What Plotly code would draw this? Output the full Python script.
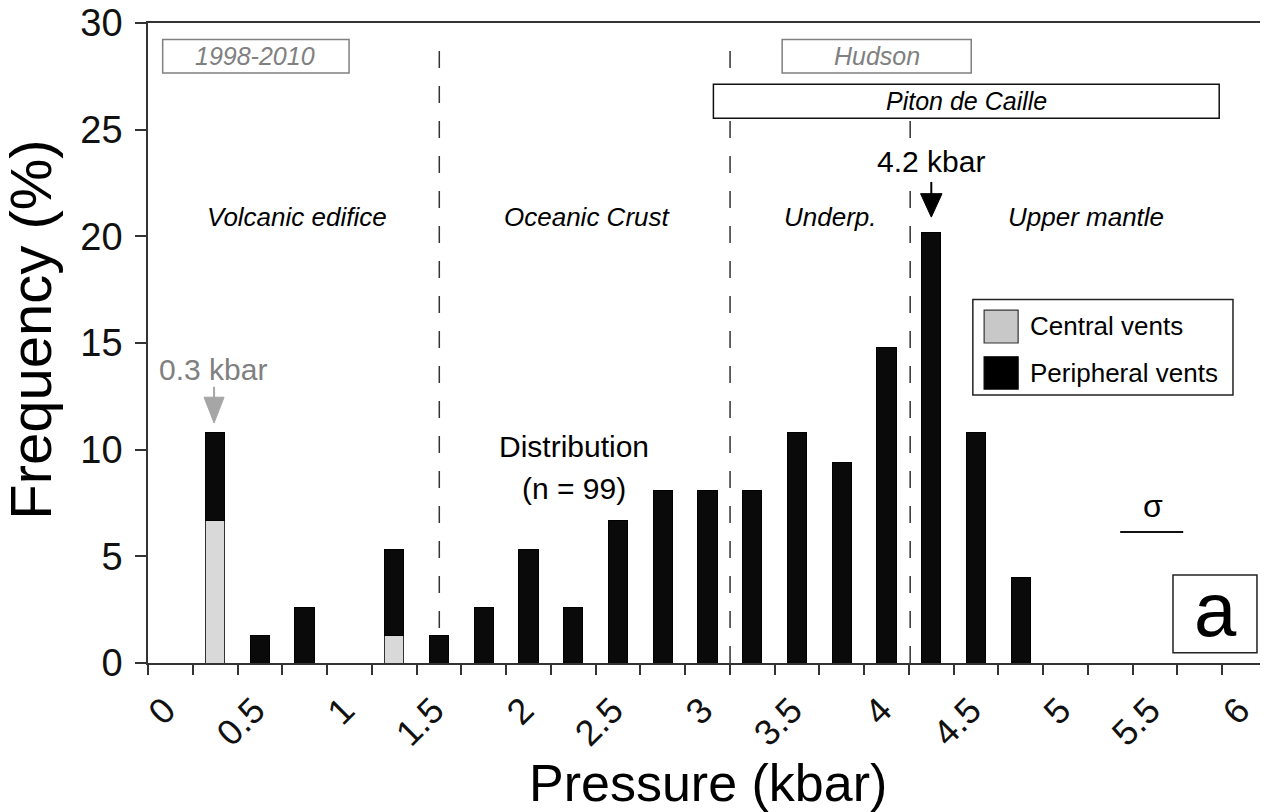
import plotly.graph_objects as go

# ---------------- data ----------------
bin_centers = [0.375, 0.625, 0.875, 1.375, 1.625, 1.875, 2.125, 2.375, 2.625,
               2.875, 3.125, 3.375, 3.625, 3.875, 4.125, 4.375, 4.625, 4.875]
central_vents = [6.7, None, None, 1.3, None, None, None, None, None,
                 None, None, None, None, None, None, None, None, None]
peripheral_vents = [4.1, 1.3, 2.6, 4.0, 1.3, 2.6, 5.3, 2.6, 6.7,
                    8.1, 8.1, 8.1, 10.8, 9.4, 14.8, 20.2, 10.8, 4.0]
x_tick_vals = [0, 0.25, 0.5, 0.75, 1, 1.25, 1.5, 1.75, 2, 2.25, 2.5, 2.75, 3,
               3.25, 3.5, 3.75, 4, 4.25, 4.5, 4.75, 5, 5.25, 5.5, 5.75, 6, 6.25]
x_tick_text = ["0", "", "0.5", "", "1", "", "1.5", "", "2", "", "2.5", "", "3",
               "", "3.5", "", "4", "", "4.5", "", "5", "", "5.5", "", "6", ""]
y_tick_vals = [0, 5, 10, 15, 20, 25, 30]
zone_bounds = [1.627, 3.251, 4.257]
zone_labels = ["Volcanic edifice", "Oceanic Crust", "Underp.", "Upper mantle"]
zone_label_x = [0.83, 2.45, 3.81, 5.237]
central_peak = 0.3
peripheral_peak = 4.2

FONT = "Liberation Sans, Arial, Helvetica, sans-serif"
BLACK = "#0a0a0a"
GRAY_BAR = "#d9d9d9"
GRAY_TXT = "#808080"

fig = go.Figure()
fig.add_trace(go.Bar(x=bin_centers, y=central_vents, width=0.108, name="Central vents",
                     marker=dict(color=GRAY_BAR, line=dict(color="#333333", width=1))))
fig.add_trace(go.Bar(x=bin_centers, y=peripheral_vents, width=0.108, name="Peripheral vents",
                     marker=dict(color=BLACK, line=dict(color="#000000", width=1))))

shapes = []
# dashed zone boundaries
for xb in zone_bounds:
    shapes.append(dict(type="line", xref="x", yref="y", x0=xb, x1=xb, y0=0, y1=29.5,
                       line=dict(color="#333333", width=1.5, dash="17px,18px"), layer="below"))
# top boxes
shapes.append(dict(type="rect", xref="x", yref="y", x0=0.082, x1=1.123, y0=27.66, y1=29.23,
                   line=dict(color="#808080", width=1.5), fillcolor="white"))
shapes.append(dict(type="rect", xref="x", yref="y", x0=3.542, x1=4.598, y0=27.66, y1=29.23,
                   line=dict(color="#808080", width=1.5), fillcolor="white"))
shapes.append(dict(type="rect", xref="x", yref="y", x0=3.158, x1=5.983, y0=25.54, y1=27.13,
                   line=dict(color="#111111", width=1.5), fillcolor="white"))
# legend box + swatches
shapes.append(dict(type="rect", xref="x", yref="y", x0=4.607, x1=6.060, y0=12.56, y1=17.04,
                   line=dict(color="#222222", width=1.5), fillcolor="white"))
shapes.append(dict(type="rect", xref="x", yref="y", x0=4.670, x1=4.860, y0=15.0, y1=16.54,
                   line=dict(color="#333333", width=1.2), fillcolor="#c8c8c8"))
shapes.append(dict(type="rect", xref="x", yref="y", x0=4.670, x1=4.860, y0=12.84, y1=14.35,
                   line=dict(color="#000000", width=1.2), fillcolor="#000000"))
# panel label box
shapes.append(dict(type="rect", xref="x", yref="y", x0=5.725, x1=6.194, y0=0.48, y1=4.12,
                   line=dict(color="#222222", width=1.5), fillcolor="white"))
# sigma bar
shapes.append(dict(type="line", xref="x", yref="y", x0=5.43, x1=5.782, y0=6.14, y1=6.14,
                   line=dict(color="#111111", width=2)))
# arrows (shaft + head)
shapes.append(dict(type="line", xref="x", yref="y", x0=peripheral_peak + 0.175, x1=peripheral_peak + 0.175,
                   y0=21.8, y1=22.55, line=dict(color="#000000", width=2)))
shapes.append(dict(type="path", xref="x", yref="y",
                   path=f"M {peripheral_peak+0.115},22.0 L {peripheral_peak+0.235},22.0 L {peripheral_peak+0.175},20.9 Z",
                   line=dict(color="#000000", width=1), fillcolor="#000000"))
shapes.append(dict(type="line", xref="x", yref="y", x0=central_peak + 0.069, x1=central_peak + 0.069,
                   y0=12.3, y1=12.95, line=dict(color="#a6a6a6", width=2)))
shapes.append(dict(type="path", xref="x", yref="y",
                   path=f"M {central_peak+0.013},12.46 L {central_peak+0.125},12.46 L {central_peak+0.069},11.25 Z",
                   line=dict(color="#a6a6a6", width=1), fillcolor="#a6a6a6"))

ann = []
def txt(x, y, s, size, color="black", italic=False, xanchor="center", xref="x", yref="y",
        angle=0, bg=None):
    d = dict(x=x, y=y, xref=xref, yref=yref, text=s, showarrow=False, xanchor=xanchor,
             yanchor="middle", textangle=angle,
             font=dict(family=FONT, size=size, color=color,
                       style="italic" if italic else "normal"))
    if bg:
        d["bgcolor"] = bg
    ann.append(d)

for lbl, xl in zip(zone_labels, zone_label_x):
    txt(xl, 20.9, lbl, 26, italic=True)
txt(0.6, 28.45, "1998-2010", 25, color=GRAY_TXT, italic=True)
txt(4.07, 28.45, "Hudson", 25, color=GRAY_TXT, italic=True)
txt(4.57, 26.33, "Piton de Caille", 25, italic=True)
txt(4.376, 23.5, "4.2 kbar", 30, bg="white")
txt(0.363, 13.78, "0.3 kbar", 30, color=GRAY_TXT)
txt(2.378, 10.14, "Distribution", 30)
txt(2.378, 8.2, "(n = 99)", 30)
txt(4.916, 15.79, "Central vents", 26, xanchor="left")
txt(4.916, 13.60, "Peripheral vents", 26, xanchor="left")
txt(5.612, 7.35, "σ", 32)
txt(5.96, 2.5, "a", 76)
txt(0.5, -0.188, "Pressure (kbar)", 52, xref="paper", yref="paper")
txt(-0.105, 0.52, "Frequency (%)", 58, xref="paper", yref="paper", angle=-90)

# The page body adds an 8 px offset, so the figure is sized/margined to compensate.
fig.update_layout(
    width=1260, height=804, barmode="stack", showlegend=False,
    plot_bgcolor="white", paper_bgcolor="white",
    margin=dict(l=140, r=1, t=15, b=149, autoexpand=False),
    font=dict(family=FONT, color="black"),
    shapes=shapes, annotations=ann,
)
fig.update_xaxes(range=[0, 6.25], tickvals=x_tick_vals, ticktext=x_tick_text, tickangle=-45,
                 ticks="outside", ticklen=10, tickwidth=1.5, tickcolor="#333333",
                 showline=True, linecolor="#333333", linewidth=1.5, mirror=True, automargin=False,
                 showgrid=False, zeroline=False, tickfont=dict(size=36, family=FONT, color="#111111"),
                 ticklabelshift=17, ticklabelstandoff=0, ticklabeloverflow="allow")
fig.update_yaxes(range=[0, 30], tickvals=y_tick_vals, ticks="outside", ticklen=11, tickwidth=1.5,
                 tickcolor="#333333", showline=True, linecolor="#333333", linewidth=1.5, mirror=True,
                 automargin=False,
                 showgrid=False, zeroline=False, tickfont=dict(size=38, family=FONT, color="#111111"),
                 ticklabelstandoff=5, ticklabeloverflow="allow")
fig.write_html("out.html")
